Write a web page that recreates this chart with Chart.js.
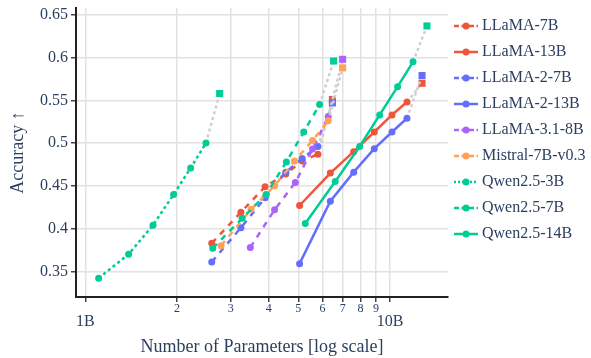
<!DOCTYPE html>
<html>
<head>
<meta charset="utf-8">
<script src="https://cdn.jsdelivr.net/npm/chart.js@4.4.1/dist/chart.umd.min.js"></script>
<style>
  html, body { margin: 0; padding: 0; background: #fff; }
  #wrap { width: 591px; height: 358px; }
</style>
</head>
<body>
<div id="wrap"><canvas id="scaling"></canvas></div>
<script>
// sizes in billions of params, accuracy per size; the last entry is the full model (square marker)
const sizeLlama7 = [2.6, 3.24, 3.89, 4.55, 5.15, 5.8, 6.47];
const accLlama7 = [0.383, 0.419, 0.449, 0.464, 0.479, 0.487, 0.551];
const sizeLlama13 = [5.05, 6.37, 7.6, 8.88, 10.15, 11.37, 12.74];
const accLlama13 = [0.427, 0.465, 0.490, 0.513, 0.533, 0.548, 0.570];
const sizeLlama2_7 = [2.6, 3.24, 3.89, 4.55, 5.15, 5.8, 6.47];
const accLlama2_7 = [0.361, 0.401, 0.436, 0.466, 0.482, 0.496, 0.547];
const sizeLlama2_13 = [5.05, 6.37, 7.6, 8.88, 10.15, 11.37, 12.74];
const accLlama2_13 = [0.359, 0.432, 0.466, 0.4935, 0.513, 0.529, 0.579];
const sizeLlama31 = [3.48, 4.18, 4.89, 5.57, 6.27, 6.99];
const accLlama31 = [0.378, 0.422, 0.454, 0.493, 0.531, 0.598];
const sizeMistral = [2.79, 3.5, 4.18, 4.86, 5.57, 6.27, 6.99];
const accMistral = [0.380, 0.4225, 0.450, 0.479, 0.503, 0.526, 0.588];
const sizeQwen3 = [1.106, 1.387, 1.668, 1.949, 2.217, 2.489, 2.76];
const accQwen3 = [0.342, 0.370, 0.404, 0.440, 0.471, 0.500, 0.558];
const sizeQwen7 = [2.62, 3.27, 3.92, 4.57, 5.21, 5.875, 6.53];
const accQwen7 = [0.377, 0.412, 0.440, 0.478, 0.513, 0.545, 0.596];
const sizeQwen14 = [5.27, 6.61, 7.95, 9.25, 10.59, 11.9, 13.22];
const accQwen14 = [0.406, 0.455, 0.496, 0.533, 0.566, 0.595, 0.637];

const xTicks = [1, 2, 3, 4, 5, 6, 7, 8, 9, 10];
const yTicks = [0.35, 0.4, 0.45, 0.5, 0.55, 0.6, 0.65];

const RED = '#EF553B', BLUE = '#636EFA', PURPLE = '#AB63FA', ORANGE = '#FFA15A', GREEN = '#00CC96';
const SOLID = [], DASH = [6, 6], DOT = [3, 3];
const serif = "'Liberation Serif', 'Times New Roman', serif";
const txt = '#2a3f5f';

function makeIcon(color, dash) {
  const c = document.createElement('canvas');
  c.width = 24; c.height = 10;
  const g = c.getContext('2d');
  g.strokeStyle = color;
  g.lineWidth = 2.5;
  if (dash === DASH) g.setLineDash([5, 2.5]);
  if (dash === DOT) g.setLineDash([2, 2]);
  g.beginPath(); g.moveTo(0, 5); g.lineTo(24, 5); g.stroke();
  g.setLineDash([]);
  g.fillStyle = color;
  g.beginPath(); g.arc(12, 5, 3.5, 0, Math.PI * 2); g.fill();
  return c;
}

function series(label, color, dash, sizes, acc) {
  const pts = sizes.map((x, i) => ({x: x, y: acc[i]}));
  const link = {
    label: label + ' full',
    data: pts.slice(-2),
    borderColor: '#cfcfcf',
    borderWidth: 2.5,
    borderDash: [3, 3],
    pointStyle: 'rect',
    pointRadius: [0, 5],
    pointBackgroundColor: color,
    pointBorderWidth: 0
  };
  const main = {
    label: label,
    data: pts.slice(0, -1),
    borderColor: color,
    backgroundColor: color,
    borderWidth: 2.5,
    borderDash: dash,
    pointRadius: 3.5,
    pointBackgroundColor: color,
    pointBorderWidth: 0,
    legendIcon: makeIcon(color, dash)
  };
  return [link, main];
}

const datasets = [].concat(
  series('LLaMA-7B', RED, DASH, sizeLlama7, accLlama7),
  series('LLaMA-13B', RED, SOLID, sizeLlama13, accLlama13),
  series('LLaMA-2-7B', BLUE, DASH, sizeLlama2_7, accLlama2_7),
  series('LLaMA-2-13B', BLUE, SOLID, sizeLlama2_13, accLlama2_13),
  series('LLaMA-3.1-8B', PURPLE, DASH, sizeLlama31, accLlama31),
  series('Mistral-7B-v0.3', ORANGE, DASH, sizeMistral, accMistral),
  series('Qwen2.5-3B', GREEN, DOT, sizeQwen3, accQwen3),
  series('Qwen2.5-7B', GREEN, DASH, sizeQwen7, accQwen7),
  series('Qwen2.5-14B', GREEN, SOLID, sizeQwen14, accQwen14)
);
// later traces on top
datasets.forEach((d, i) => { d.order = datasets.length - i; });

new Chart(document.getElementById('scaling'), {
  type: 'line',
  data: { datasets: datasets },
  options: {
    responsive: true,
    maintainAspectRatio: false,
    animation: false,
    layout: { padding: { top: 8, right: 0, bottom: 0, left: 0 } },
    elements: { line: { tension: 0, fill: false } },
    plugins: {
      tooltip: { enabled: false },
      legend: {
        position: 'right',
        align: 'start',
        maxWidth: 143,
        labels: {
          usePointStyle: true,
          pointStyleWidth: 16,
          padding: 10,
          color: txt,
          font: { family: serif, size: 16 },
          generateLabels: (chart) => chart.data.datasets
            .map((ds, i) => ({
              text: ds.label,
              pointStyle: ds.legendIcon,
              datasetIndex: i,
              fontColor: txt,
              lineWidth: 0,
              strokeStyle: 'rgba(0,0,0,0)',
              fillStyle: 'rgba(0,0,0,0)',
              hidden: false
            }))
            .filter(item => item.pointStyle)
        }
      }
    },
    scales: {
      x: {
        type: 'logarithmic',
        min: 0.932,
        max: 15.5,
        afterBuildTicks: (scale) => { scale.ticks = xTicks.map(v => ({value: v})); },
        afterFit: (scale) => {
          scale.height = 61;
          scale.paddingLeft = 0; scale.paddingRight = 0;
        },
        grid: { color: '#e2e2e2', lineWidth: 1.5, tickColor: '#444', tickLength: 5, tickWidth: 1.5 },
        border: { display: true, color: '#222', width: 2 },
        ticks: {
          autoSkip: false,
          maxRotation: 0,
          padding: 0,
          color: txt,
          font: (ctx) => (ctx.tick && (ctx.tick.value === 1 || ctx.tick.value === 10))
            ? { family: serif, size: 16, lineHeight: 0.8125 }
            : { family: serif, size: 12 },
          callback: (v) => v === 1 ? ['', '1B'] : v === 10 ? ['', '10B'] : String(v)
        },
        title: {
          display: true,
          text: 'Number of Parameters [log scale]',
          color: txt,
          font: { family: serif, size: 18 },
          padding: { top: 0, bottom: 0 }
        }
      },
      y: {
        min: 0.32,
        max: 0.658,
        afterBuildTicks: (scale) => { scale.ticks = yTicks.map(v => ({value: v})); },
        afterFit: (scale) => {
          scale.width = 76;
          scale.paddingTop = 0; scale.paddingBottom = 0;
        },
        grid: { color: '#e2e2e2', lineWidth: 1.5, tickColor: '#444', tickLength: 5, tickWidth: 1.5 },
        border: { display: true, color: '#222', width: 2 },
        ticks: {
          padding: 3,
          color: txt,
          font: { family: serif, size: 16 },
          callback: (v) => String(+v.toFixed(2))
        },
        title: {
          display: true,
          text: 'Accuracy ↑',
          color: txt,
          font: { family: serif, size: 18 },
          padding: { top: 7, bottom: 0 }
        }
      }
    }
  }
});
</script>
</body>
</html>
